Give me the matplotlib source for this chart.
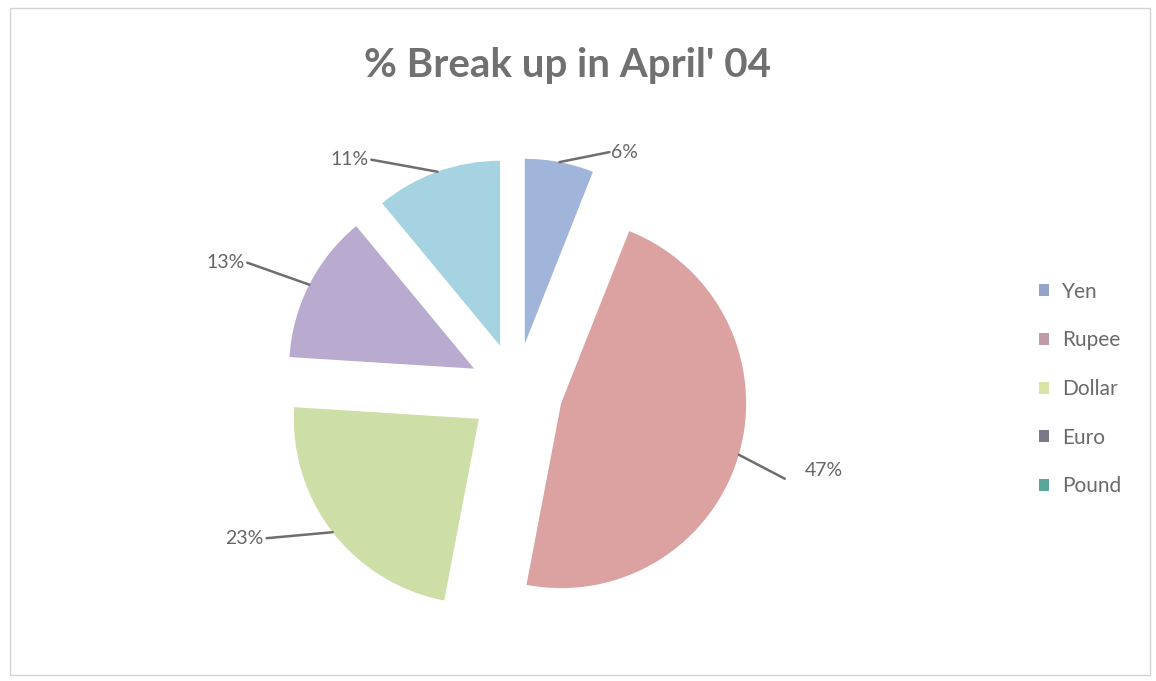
import numpy as np
import matplotlib
matplotlib.use("Agg")
import matplotlib.pyplot as plt
from matplotlib.patches import Rectangle, Patch

# ---- data ----
title = "% Break up in April' 04"
currencies = ["Yen", "Rupee", "Dollar", "Euro", "Pound"]
shares = [6, 47, 23, 13, 11]
labels = ["6%", "47%", "23%", "13%", "11%"]

# ---- style ----
colors = ["#A0B5D9", "#DCA2A2", "#CDDEA6", "#B9AACF", "#A5D3E2"]
legend_colors = ["#96A3C8", "#C09AA4", "#DCE3A6", "#7A7A86", "#5AA79A"]
W, H = 1156, 681
fig = plt.figure(figsize=(W / 100, H / 100), dpi=100)
ax = fig.add_axes([0, 0, 1, 1])

center = (516, H - 390)
R = 185
expl = 47
wedges, _ = ax.pie(shares, colors=colors, startangle=90, counterclock=False,
                   explode=[expl] * len(shares), radius=R, center=center,
                   wedgeprops=dict(linewidth=0), frame=True)
ax.set_xlim(0, W)
ax.set_ylim(0, H)
ax.set_aspect("equal")
ax.axis("off")

# label offsets relative to arc midpoint (pixels, y up), and alignment
label_off = [(50, 10), (46, -24), (-66, -6), (-62, 22), (-66, 12)]
text_gap = [(2, 0), (20, 8), (-3, 0), (-3, 0), (-3, 0)]
ha = ["left", "left", "right", "right", "right"]
for w, lab, off, gap, h in zip(wedges, labels, label_off, text_gap, ha):
    th = np.deg2rad((w.theta1 + w.theta2) / 2)
    cx, cy = w.center
    mx, my = cx + R * np.cos(th), cy + R * np.sin(th)
    ex, ey = mx + off[0], my + off[1]
    ax.plot([mx, ex], [my, ey], color="#6E6E6E", lw=1.8, solid_capstyle="round")
    ax.text(ex + gap[0], ey + gap[1], lab, ha=h, va="center", fontsize=14,
            color="#666666", family="Lato")

fig.text(568 / W, 1 - 66 / H, title, ha="center", va="center", fontsize=29,
         fontweight="bold", color="#707070", family="Lato")

handles = [Patch(facecolor=c, edgecolor="none") for c in legend_colors]
leg = fig.legend(handles, currencies, loc="center left",
                 bbox_to_anchor=(1020 / W, 1 - 389 / H), frameon=False,
                 prop=dict(family="Lato", size=15), labelcolor="#6A6A6A",
                 handlelength=0.5, handleheight=0.5, handletextpad=0.6,
                 labelspacing=1.38)

fig.add_artist(Rectangle((10 / W, 6 / H), 1140 / W, 667 / H,
                         transform=fig.transFigure, fill=False,
                         edgecolor="#D4D4D4", lw=1))

fig.savefig("out.png", dpi=100, facecolor="white")
